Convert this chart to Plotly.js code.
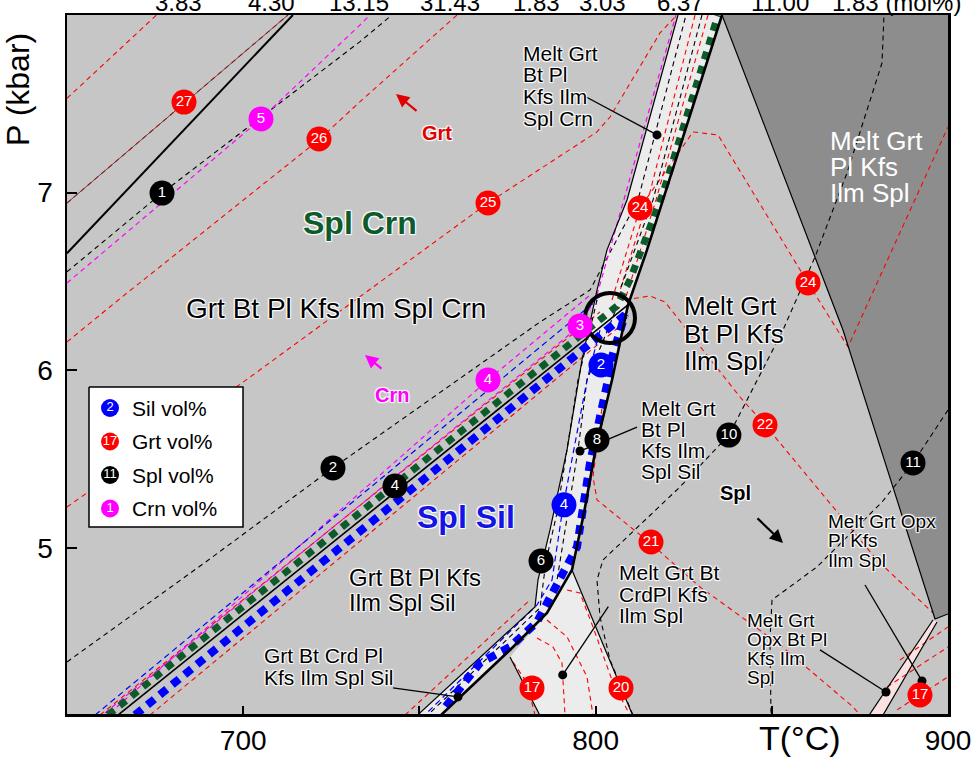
<!DOCTYPE html>
<html><head><meta charset="utf-8">
<script src="https://cdn.plot.ly/plotly-3.0.1.min.js"></script>
<style>html,body{margin:0;padding:0;background:#fff}#chart{width:978px;height:757px}</style>
</head><body><div id="chart"></div>
<script>
// ================= DATA (T in °C, P in kbar) =================
// field polygons / boundaries
const bandLeftT  = [823.38,808.91,803.24,800.4,796.14,791.89,787.06,783.65,782.8,750.17,749.6];
const bandLeftP  = [8,6.959,6.678,6.452,6.059,5.552,5.102,4.82,4.669,4.072,4.05];
const bandRightT = [755.6,776.56,786.21,793.3,796.71,800.11,804.65,809.19,814.59,819.13,835.87];
const bandRightP = [4.05,4.443,4.635,4.877,5.198,5.569,5.946,6.368,6.678,6.959,8];
const crdT  = [793.3,810.7,784.4,775.71,786.21];
const crdP  = [4.877,4.05,4.05,4.387,4.635];
const darkT = [835.87,870.2,885.53,896.31,900,900];
const darkP = [8,6.227,5.271,4.601,4.629,8];
const pinkT = [895.74,896.88,881.27,877.3];
const pinkP = [4.595,4.584,4.05,4.05];
const diagT = [664.47,809.19];           const diagP = [4.06,6.368];
const crdRightT = [793.3,810.7];         const crdRightP = [4.877,4.05];
const crdLeftT  = [775.71,784.4];        const crdLeftP  = [4.387,4.05];
const pinkLT = [895.74,877.3];           const pinkLP = [4.595,4.05];
const pinkRT = [896.88,881.27];          const pinkRP = [4.584,4.05];
const ulThickT = [650,714.1];            const ulThickP = [6.659,8];
const ulThinT  = [650,712.71];           const ulThinP  = [6.942,8];

// Grt (red) isopleths
const grtA_T  = [650,675.4];                                   const grtA_P  = [7.531,8];
const grt27_T = [650,712.71];                                  const grt27_P = [6.942,8];
const grt26_T = [650,664.56,721.6,733.14,760.7];               const grt26_P = [6.16,6.396,7.3,7.512,8];
const grt25_T = [650,699.66,769.47,800.4,804.09,818.27,823.1]; const grt25_P = [5.231,5.929,6.942,7.342,7.426,7.899,8];
const grt24_T = [804.65,812.6,827.64,834.73,860.27,871.62,900];const grt24_P = [6.396,6.914,7.342,7.325,6.492,6.132,7.37];
const grt22_T = [808.34,815.44,819.69,840.98,848.07,865.66,879.85,895.74];
const grt22_P = [6.396,6.419,6.385,5.85,5.693,5.271,4.933,4.635];
const grt21_T = [802.1,799.26,800.4,815.44,829.63,852.33,873.04,875.03];
const grt21_P = [5.833,5.4,5.271,5.029,4.781,4.455,4.106,4.06];
const grt20_T = [791.89,795.57,799.26,804.94,809.76];          const grt20_P = [4.764,4.747,4.556,4.241,4.06];
const grt19_T = [786.21,791.89,797.56,799.26];                 const grt19_P = [4.595,4.5,4.275,4.06];
const grt18_T = [783.37,787.91,790.47,791.32];                 const grt18_P = [4.494,4.443,4.353,4.06];
const grt17_T = [776.56,780.54,782.8];                         const grt17_P = [4.359,4.241,4.06];
const grtR1_T = [885.53,900]; const grtR1_P = [4.089,4.275];
const grtR2_T = [882.69,900]; const grtR2_P = [4.218,4.443];
const grtR3_T = [886.38,900]; const grtR3_P = [4.37,4.556];
const grtDU_T = [659.36,801.25]; const grtDU_P = [4.06,6.329];
const grtDD_T = [673.55,808.34]; const grtDD_P = [4.06,6.272];
const grtB1_T = [828.21,814.87,806.07]; const grtB1_P = [8,6.959,6.396];
const grtB2_T = [831.9,817.14,808.34];  const grtB2_P = [8,6.959,6.396];
const grtLL_T = [745.91,781.39]; const grtLL_P = [4.06,4.708];

// Spl (black) isopleths
const spl1_T  = [650,676.96,733.14,742.2];                     const spl1_P  = [6.555,6.998,7.85,8];
const spl2_T  = [650,689.73,725.48,784.22,798.41,812.03,825.65];const spl2_P = [4.359,4.927,5.451,6.272,6.452,6.959,8];
const spl6_T  = [800.4,795.01,789.05,785.93,784.22,753.01];    const spl6_P  = [6.396,5.946,5.198,4.927,4.663,4.072];
const spl10_T = [810.61,804.09,801.25,800.4,802.1,823.95,837.83,853.18,862.26,871.34,881.27,881.84];
const spl10_P = [4.06,4.37,4.612,4.82,4.933,5.344,5.636,6.227,6.638,7.111,7.73,8];
const spl11_T = [900,890.07,881.27,862.83,850.06,849.49,849.77];const spl11_P = [5.777,5.479,5.259,4.894,4.708,4.483,4.06];
const splB_T  = [830.19,816.29,806.92];                        const splB_P  = [8,6.959,6.452];
const splB3_T = [805.5,797.56,795.01,791.32,789.05];           const splB3_P = [6.329,5.946,5.552,5.102,4.82];

// Crn (magenta) isopleths
const crn5_T = [650,705.05,733.14,735.98];           const crn5_P = [6.492,7.415,7.944,8];
const crn3_T = [660.78,795.57,800.4,808.06,822.81];  const crn3_P = [4.072,6.25,6.424,6.959,8];
const crn4_T = [662.2,769.47,798.41];                const crn4_P = [4.072,5.946,6.424];

// Sil (blue) isopleths
const silThickT = [669.3,808.34,804.65,803.52,798.41,794.72,790.47,783.37,775.71,767.2,756.7];
const silThickP = [4.06,6.312,6.075,5.946,5.479,5.006,4.849,4.584,4.443,4.353,4.089];
const silDiagT = [657.95,800.4]; const silDiagP = [4.06,6.396];
const sil4T = [801.25,797.56,790.75,787.63,783.37,752.44]; const sil4P = [6.227,5.946,5.231,4.82,4.68,4.078];

// Crn-in / Sil-out reaction (green)
const crnSilT = [661.63,806.07,809.76,819.13,834.73]; const crnSilP = [4.06,6.362,6.509,6.998,8];

// numbered isopleth labels
const grtLabT = [683.2,721.51,769.47,812.6,860.27,848.07,815.72,807.21,781.95,892.05];
const grtLabP = [7.51,7.302,6.942,6.914,6.492,5.693,5.034,4.213,4.213,4.173];
const grtLabN = ['27','26','25','24','24','22','21','20','17','17'];
const splLabT = [676.96,725.48,743.08,784.51,800.4,837.83,890.07];
const splLabP = [6.998,5.451,5.349,4.927,5.608,5.636,5.479];
const splLabN = ['1','2','4','6','8','10','11'];
const crnLabT = [705.05,769.47,795.57]; const crnLabP = [7.415,5.946,6.25]; const crnLabN = ['5','4','3'];
const silLabT = [801.53,791.03];        const silLabP = [6.03,5.243];        const silLabN = ['2','4'];

// invariant point ring
const ringT = [804.09]; const ringP = [6.295];

// pointer lines (label -> dot)
const ptrFromT = [796.26,811.75,803.61,742.51,863.68,876.45];
const ptrFromP = [7.55,5.681,4.67,4.213,4.427,4.792];
const dotT = [817.42,795.57,790.66,760.95,882.41,892.62];
const dotP = [7.325,5.546,4.286,4.162,4.19,4.252];

// field labels
const fieldLines = [
  ["Melt Grt","Bt Pl","Kfs Ilm","Spl Crn"],
  ["Grt Bt Pl Kfs Ilm Spl Crn"],
  ["Melt Grt","Bt Pl Kfs","Ilm Spl"],
  ["Melt Grt","Bt Pl","Kfs Ilm","Spl Sil"],
  ["Melt Grt Bt","CrdPl Kfs","Ilm Spl"],
  ["Grt Bt Crd Pl","Kfs Ilm Spl Sil"],
  ["Grt Bt Pl Kfs","Ilm Spl Sil"],
  ["Melt Grt Opx","Pl Kfs","Ilm Spl"],
  ["Melt Grt","Opx Bt Pl","Kfs Ilm","Spl"],
  ["Melt Grt","Pl Kfs","Ilm Spl"]
];
const fieldT = [778.83,683.2,824.52,812.32,806.07,705.33,729.45,865.38,842.4,865.95];
const fieldP = [7.786,6.351,6.362,5.788,4.86,4.398,4.837,5.152,4.595,7.291];

const boldTexts = ["Spl Crn","Spl Sil","Grt","Crn","Spl"];
const boldT = [716.3,748.75,750.17,736.83,834.73];
const boldP = [6.829,5.172,7.336,5.862,5.31];

// arrows: head position
const arrowT = [743.36,734.56,853.18];
const arrowP = [7.555,6.087,5.029];

// top (cut-off) composition labels
const topLabels = ["3.83","4.30","13.15","31.43","1.83","3.03","6.37","11.00","1.83 (mol%)"];
const topLabelT = [681.64,708.03,732.72,758.68,783.23,801.82,823.95,852.33,885.4];

// legend
const legNums = ["2","17","11","1"];
const legTexts = ["Sil vol%","Grt vol%","Spl vol%","Crn vol%"];

// x ticks
const xTickVals = [700,750,800,850,900];
const xTickText = ["700","","800","","900"];
const yTickVals = [5,6,7,8];

// ================= STYLE =================
const FONT = "Liberation Sans, Arial, Helvetica, sans-serif";
const RED = "#ff0000", MAG = "#ff00ff", BLUE = "#0000ff", GREEN = "#0d5a2b";
const HALO = "1px 1px 1px #fff, -1px -1px 1px #fff, 1px -1px 1px #fff, -1px 1px 1px #fff";

function line(T, P, color, width, dash) {
  return {type:'scatter', mode:'lines', x:T, y:P, line:{color:color, width:width, dash:dash||'solid'},
          hoverinfo:'skip', showlegend:false};
}
function poly(T, P, fill) {
  return {type:'scatter', mode:'lines', x:T, y:P, fill:'toself', fillcolor:fill, line:{width:0},
          hoverinfo:'skip', showlegend:false};
}
function labels(T, P, N, color) {
  return {type:'scatter', mode:'markers+text', x:T, y:P, text:N, textposition:'middle center',
          textfont:{family:FONT, size:15, color:'#fff'}, marker:{size:25, color:color, line:{width:0}},
          hoverinfo:'skip', showlegend:false, cliponaxis:false};
}

const RD = '5px,4px', KD = '5px,4px';
const traces = [];
// fills
traces.push(poly(bandLeftT.concat(bandRightT), bandLeftP.concat(bandRightP), '#ececec'));
traces.push(poly(crdT, crdP, '#ececec'));
traces.push(poly(darkT, darkP, '#8d8d8d'));
traces.push(poly(pinkT, pinkP, '#fbe2e2'));

// red dashed
[[grtA_T,grtA_P],[grt27_T,grt27_P],[grt26_T,grt26_P],[grt25_T,grt25_P],[grt24_T,grt24_P],
 [grt22_T,grt22_P],[grt21_T,grt21_P],[grt20_T,grt20_P],[grt19_T,grt19_P],[grt18_T,grt18_P],
 [grt17_T,grt17_P],[grtR1_T,grtR1_P],[grtR2_T,grtR2_P],[grtR3_T,grtR3_P],[grtDU_T,grtDU_P],
 [grtDD_T,grtDD_P],[grtB1_T,grtB1_P],[grtB2_T,grtB2_P],[grtLL_T,grtLL_P]
].forEach(a => traces.push(line(a[0], a[1], RED, 1.1, RD)));
// black dashed
[[spl1_T,spl1_P],[spl2_T,spl2_P],[spl6_T,spl6_P],[spl10_T,spl10_P],[spl11_T,spl11_P],[splB_T,splB_P],[splB3_T,splB3_P]
].forEach(a => traces.push(line(a[0], a[1], '#000', 1.1, KD)));
// magenta dashed
[[crn5_T,crn5_P],[crn3_T,crn3_P],[crn4_T,crn4_P]].forEach(a => traces.push(line(a[0], a[1], MAG, 1.2, RD)));
// blue thin dashed
[[silDiagT,silDiagP],[sil4T,sil4P]].forEach(a => traces.push(line(a[0], a[1], BLUE, 1.2, '6px,4px')));

// solid boundaries
traces.push(line(ulThinT, ulThinP, '#333', 0.8));
traces.push(line(ulThickT, ulThickP, '#000', 2));
traces.push(line(bandLeftT, bandLeftP, '#000', 1.2));
traces.push(line(crdRightT, crdRightP, '#000', 1.2));
traces.push(line(crdLeftT, crdLeftP, '#000', 1.2));
traces.push(line(darkT.slice(0,5), darkP.slice(0,5), '#000', 1.2));
traces.push(line(pinkLT, pinkLP, '#000', 1.2));
traces.push(line(pinkRT, pinkRP, '#000', 1.2));
traces.push(line(diagT, diagP, '#000', 1.6));
// thick dashed reactions
traces.push(line(crnSilT, crnSilP, GREEN, 7, '8px,7px'));
traces.push(line(silThickT, silThickP, BLUE, 8, '9px,7px'));
traces.push(line(bandRightT, bandRightP, '#000', 2.6));

// pointer lines
const pT = [], pP = [];
for (let i = 0; i < dotT.length; i++) { pT.push(ptrFromT[i], dotT[i], null); pP.push(ptrFromP[i], dotP[i], null); }
traces.push({type:'scatter', mode:'lines', x:pT, y:pP, line:{color:'#000', width:1.3}, hoverinfo:'skip', showlegend:false});
traces.push({type:'scatter', mode:'markers', x:dotT, y:dotP, marker:{size:9, color:'#000'}, hoverinfo:'skip', showlegend:false});
// ring
traces.push({type:'scatter', mode:'markers', x:ringT, y:ringP,
  marker:{symbol:'circle-open', size:50, color:'#000', line:{width:4, color:'#000'}}, hoverinfo:'skip', showlegend:false});

// legend box (as filled trace so markers can sit on top)
const xPx = px => 650 + (px - 67) / 881 * 250;
const yPx = py => 8 - (py - 15) / 699 * 3.934;
traces.push({type:'scatter', mode:'lines', x:[xPx(89),xPx(243),xPx(243),xPx(89),xPx(89)],
  y:[yPx(387),yPx(387),yPx(527),yPx(527),yPx(387)], fill:'toself', fillcolor:'#fff',
  line:{color:'#000', width:1.5}, hoverinfo:'skip', showlegend:false});
const legY = [408,441.5,475,508.5];
const legCol = [BLUE, RED, '#000', MAG];
traces.push({type:'scatter', mode:'markers+text', x:legY.map(()=>xPx(110)), y:legY.map(yPx), text:legNums,
  textposition:'middle center', textfont:{family:FONT, size:13, color:'#fff'},
  marker:{size:18, color:legCol}, hoverinfo:'skip', showlegend:false});

// numbered labels
traces.push(labels(grtLabT, grtLabP, grtLabN, RED));
traces.push(labels(splLabT, splLabP, splLabN, '#000'));
traces.push(labels(crnLabT, crnLabP, crnLabN, MAG));
traces.push(labels(silLabT, silLabP, silLabN, BLUE));

// ================= ANNOTATIONS =================
const ann = [];
const fSize = [21,28,26,21,21,21,24,19,19,26];
const fGap  = [21.7,0,27.5,21,21.5,22.5,25,19.5,19,26];
fieldLines.forEach((lines, i) => {
  lines.forEach((t, j) => {
    ann.push({x:fieldT[i], y:fieldP[i], xref:'x', yref:'y', text:t, showarrow:false,
      xanchor:'left', yanchor:'middle', yshift:-j*fGap[i],
      font:{family:FONT, size:fSize[i], color: i===9 ? '#fff' : '#000', shadow: i===9 ? 'none' : HALO}});
  });
});
const bSize = [32,32,20,20,20];
const bCol = [GREEN, '#1414e6', '#e00000', MAG, '#000'];
boldTexts.forEach((t, i) => {
  ann.push({x:boldT[i], y:boldP[i], xref:'x', yref:'y', text:'<b>'+t+'</b>', showarrow:false,
    xanchor:'left', yanchor:'middle', font:{family:FONT, size:bSize[i], color:bCol[i], shadow:HALO}});
});
const arrAx = [22,18,-27], arrAy = [18,15,-26];
const arrCol = ['#e00000', MAG, '#000'];
arrowT.forEach((t, i) => {
  ann.push({x:t, y:arrowP[i], xref:'x', yref:'y', text:'', showarrow:true, ax:arrAx[i], ay:arrAy[i],
    arrowcolor:arrCol[i], arrowwidth:2.2, arrowhead:2, arrowsize:1.2});
});
topLabels.forEach((t, i) => {
  ann.push({x:topLabelT[i], y:1, xref:'x', yref:'paper', text:t, showarrow:false, xanchor:'center',
    yanchor:'bottom', yshift:-3, font:{family:FONT, size:24, color:'#000'}});
});
legTexts.forEach((t, i) => {
  ann.push({x:xPx(130), y:yPx(legY[i]), xref:'x', yref:'y', text:t, showarrow:false, xanchor:'left',
    yanchor:'middle', font:{family:FONT, size:21, color:'#000'}});
});
ann.push({x:(18-67)/881, y:(714-90)/699, xref:'paper', yref:'paper', text:'P (kbar)', textangle:-90,
  showarrow:false, xanchor:'center', yanchor:'middle', font:{family:FONT, size:32, color:'#000'}});
ann.push({x:xPx(800), y:(714-738)/699, xref:'x', yref:'paper', text:'T(°C)', showarrow:false,
  xanchor:'center', yanchor:'middle', font:{family:FONT, size:34, color:'#000'}});

const layout = {
  width:978, height:757,
  margin:{l:67, r:30, t:15, b:43, pad:0},
  paper_bgcolor:'#fff', plot_bgcolor:'#c6c6c6',
  showlegend:false,
  xaxis:{range:[650,900], showline:true, linewidth:2.5, linecolor:'#000', mirror:true,
    ticks:'inside', ticklen:8, tickwidth:2, tickcolor:'#000', tickvals:xTickVals, ticktext:xTickText,
    tickfont:{family:FONT, size:28, color:'#000'}, showgrid:false, zeroline:false, ticklabelstandoff:0},
  yaxis:{range:[4.066,8], showline:true, linewidth:2.5, linecolor:'#000', mirror:true,
    ticks:'inside', ticklen:10, tickwidth:2, tickcolor:'#000', tickvals:yTickVals,
    tickfont:{family:FONT, size:28, color:'#000'}, showgrid:false, zeroline:false, ticklabelstandoff:6},
  annotations:ann
};
Plotly.newPlot('chart', traces, layout, {displayModeBar:false, staticPlot:true});
</script></body></html>
